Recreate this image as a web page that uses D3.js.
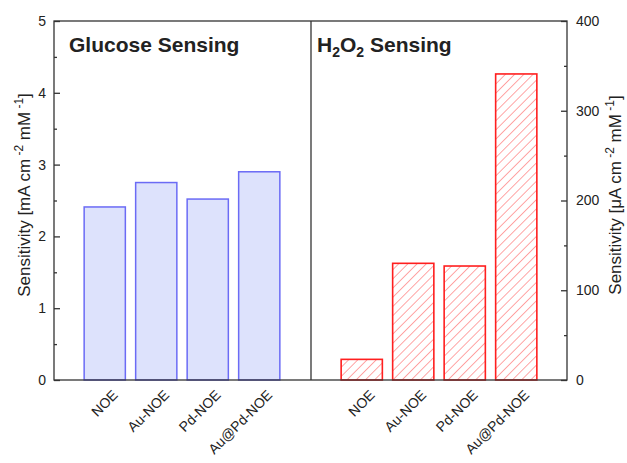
<!DOCTYPE html>
<html>
<head>
<meta charset="utf-8">
<script src="https://cdn.jsdelivr.net/npm/d3@7"></script>
<style>
  body { margin: 0; background: #fff; }
  text { font-family: "Liberation Sans", Arial, sans-serif; fill: #222; }
</style>
</head>
<body>
<svg id="chart" width="627" height="463"></svg>
<script>
var categories = ["NOE", "Au-NOE", "Pd-NOE", "Au@Pd-NOE"];
var glucoseValues = [2.41, 2.75, 2.52, 2.90];   // mA cm-2 mM-1
var h2o2Values = [23, 130, 127, 341];           // uA cm-2 mM-1
var leftTicks = [0, 1, 2, 3, 4, 5];
var rightTicks = [0, 100, 200, 300, 400];

var svg = d3.select("#chart");

// plot box (note: "top" is taken by window.top, so prefix these)
var plotL = 54, plotR = 567, plotT = 21, plotB = 380, plotMid = 311;

var yL = d3.scaleLinear().domain([0, 5]).range([plotB, plotT]);
var yR = d3.scaleLinear().domain([0, 400]).range([plotB, plotT]);

var xL = d3.scaleBand().domain(categories).range([79, 285]).paddingInner(0.2).paddingOuter(0.1);
var xR = d3.scaleBand().domain(categories).range([336, 542]).paddingInner(0.2).paddingOuter(0.1);

// hatch pattern for the H2O2 bars
var defs = svg.append("defs");
defs.append("pattern")
    .attr("id", "hatch")
    .attr("patternUnits", "userSpaceOnUse")
    .attr("width", 6.5)
    .attr("height", 6.5)
    .attr("patternTransform", "rotate(45)")
  .append("line")
    .attr("x1", 0).attr("y1", 0)
    .attr("x2", 0).attr("y2", 6.5)
    .attr("stroke", "#ff5c5c")
    .attr("stroke-width", 1.1);

// glucose bars
svg.append("g").selectAll("rect")
    .data(glucoseValues)
    .enter()
    .append("rect")
        .attr("x", function(d, i) { return xL(categories[i]); })
        .attr("y", function(d) { return yL(d); })
        .attr("width", xL.bandwidth())
        .attr("height", function(d) { return yL(0) - yL(d); })
        .attr("fill", "#dde2fc")
        .attr("stroke", "#6b6bf5")
        .attr("stroke-width", 1.5);

// h2o2 bars
svg.append("g").selectAll("rect")
    .data(h2o2Values)
    .enter()
    .append("rect")
        .attr("x", function(d, i) { return xR(categories[i]); })
        .attr("y", function(d) { return yR(d); })
        .attr("width", xR.bandwidth())
        .attr("height", function(d) { return yR(0) - yR(d); })
        .attr("fill", "url(#hatch)")
        .attr("stroke", "#ff1f1f")
        .attr("stroke-width", 1.6);

// frame
svg.append("rect")
    .attr("x", plotL).attr("y", plotT)
    .attr("width", plotR - plotL).attr("height", plotB - plotT)
    .attr("fill", "none").attr("stroke", "#333").attr("stroke-width", 1.3);
svg.append("line")
    .attr("x1", plotMid).attr("x2", plotMid).attr("y1", plotT).attr("y2", plotB)
    .attr("stroke", "#333").attr("stroke-width", 1.3);

// axes
function styleAxis(g) {
    g.select(".domain").remove();
    g.selectAll("line").attr("stroke", "#333").attr("stroke-width", 1.3);
    g.selectAll("text").style("font-size", "14px").attr("fill", "#222");
}

svg.append("g")
    .attr("transform", "translate(" + plotL + ",0)")
    .call(d3.axisLeft(yL).tickValues(leftTicks).tickFormat(d3.format("d")).tickSizeInner(-6).tickSizeOuter(0).tickPadding(8))
    .call(styleAxis);
svg.append("g")
    .attr("transform", "translate(" + plotL + ",0)")
    .call(d3.axisLeft(yL).tickValues([0.5, 1.5, 2.5, 3.5, 4.5]).tickFormat("").tickSizeInner(-3).tickSizeOuter(0))
    .call(styleAxis);

svg.append("g")
    .attr("transform", "translate(" + plotR + ",0)")
    .call(d3.axisRight(yR).tickValues(rightTicks).tickFormat(d3.format("d")).tickSizeInner(-6).tickSizeOuter(0).tickPadding(9))
    .call(styleAxis);
svg.append("g")
    .attr("transform", "translate(" + plotR + ",0)")
    .call(d3.axisRight(yR).tickValues([50, 150, 250, 350]).tickFormat("").tickSizeInner(-3).tickSizeOuter(0))
    .call(styleAxis);

// rotated category labels
function catLabels(x) {
    svg.append("g").selectAll("text")
        .data(categories)
        .enter()
        .append("text")
            .attr("transform", function(d) {
                return "translate(" + (x(d) + x.bandwidth() / 2 + 7) + "," + (plotB + 9) + ") rotate(-45)";
            })
            .attr("text-anchor", "end")
            .attr("dy", "0.7em")
            .style("font-size", "14px")
            .text(function(d) { return d; });
}
catLabels(xL);
catLabels(xR);

// panel titles
svg.append("text")
    .attr("x", 69).attr("y", 52)
    .style("font-size", "21px").style("font-weight", "bold").attr("fill", "#111")
    .text("Glucose Sensing");

var t2 = svg.append("text")
    .attr("x", 317).attr("y", 52)
    .style("font-size", "21px").style("font-weight", "bold").attr("fill", "#111");
t2.append("tspan").text("H");
t2.append("tspan").attr("dy", 5).style("font-size", "14px").text("2");
t2.append("tspan").attr("dy", -5).text("O");
t2.append("tspan").attr("dy", 5).style("font-size", "14px").text("2");
t2.append("tspan").attr("dy", -5).text(" Sensing");

// axis titles
function axisTitle(x, y, unit) {
    var t = svg.append("text")
        .attr("transform", "translate(" + x + "," + y + ") rotate(-90)")
        .attr("text-anchor", "middle")
        .style("font-size", "17px");
    t.append("tspan").text("Sensitivity [" + unit + " cm");
    t.append("tspan").attr("dy", -7).style("font-size", "12px").text(" -2");
    t.append("tspan").attr("dy", 7).text(" mM");
    t.append("tspan").attr("dy", -7).style("font-size", "12px").text(" -1");
    t.append("tspan").attr("dy", 7).text("]");
}
axisTitle(30, 195, "mA");
axisTitle(621, 195, "\u03bcA");
</script>
</body>
</html>
